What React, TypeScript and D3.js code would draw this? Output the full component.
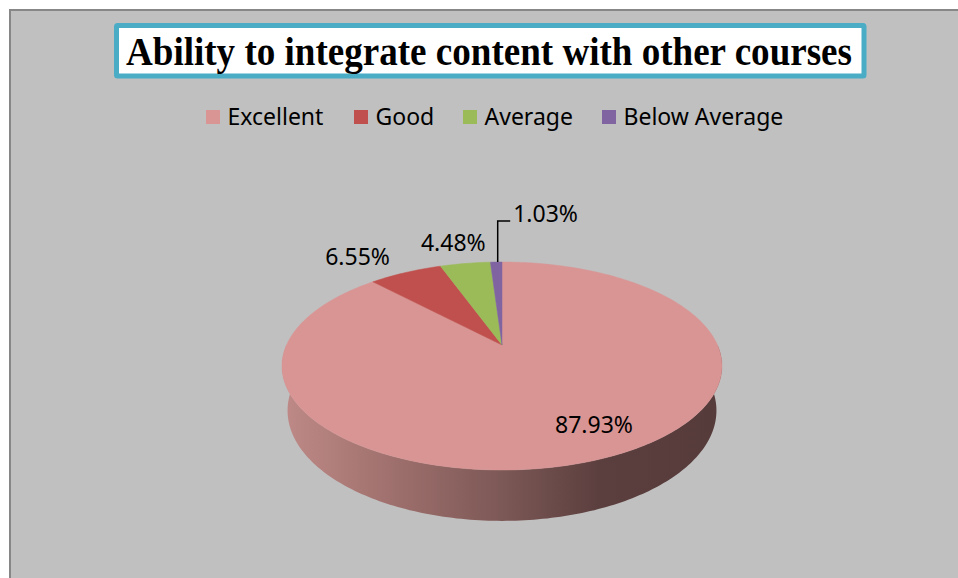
import React from "react";
import * as d3 from "d3";

const categories = ["Excellent", "Good", "Average", "Below Average"];
const values = [87.93, 6.55, 4.48, 1.03];
const labels = ["87.93%", "6.55%", "4.48%", "1.03%"];
const colors = ["#d99594", "#c0504d", "#9bbb59", "#8064a2"];
const title = "Ability to integrate content with other courses";

const W = 958;
const H = 578;

// 3D perspective parameters (units of camera distance L)
const CX = 502;
const CY = 345;
const KL = 945;
const R = 0.228;
const SA = 0.463;
const CA = 0.886;
const DEPTH = 0.0537;

function project(X: number, Yw: number, Z: number): [number, number] {
  const yc = Yw * CA + Z * SA;
  const zc = 1 - Yw * SA + Z * CA;
  return [CX + (KL * X) / zc, CY - (KL * yc) / zc];
}
function rimPoint(theta: number, rad: number, Yw: number): [number, number] {
  return project(rad * Math.sin(theta), Yw, rad * Math.cos(theta));
}

const line = d3.line<[number, number]>();

export default function App() {
  const pie = d3
    .pie<number>()
    .sort(null)
    .startAngle(0)
    .endAngle(2 * Math.PI);
  const arcs = pie(values);

  // side wall (front half)
  const wallTop: [number, number][] = [];
  const wallBot: [number, number][] = [];
  const steps = 180;
  for (let i = 0; i <= steps; i++) {
    const t = Math.PI / 2 + (Math.PI * i) / steps;
    wallTop.push(rimPoint(t, R, 0));
    wallBot.push(rimPoint(t, R, -DEPTH));
  }
  const wallPath = line([...wallTop, ...wallBot.reverse()]) + "Z";

  const slicePaths = arcs.map((a) => {
    const pts: [number, number][] = [project(0, 0, 0)];
    const n = Math.max(4, Math.ceil(((a.endAngle - a.startAngle) / (2 * Math.PI)) * 360));
    for (let i = 0; i <= n; i++) {
      const t = a.startAngle + ((a.endAngle - a.startAngle) * i) / n;
      pts.push(rimPoint(t, R, 0));
    }
    return line(pts) + "Z";
  });

  const mid = (i: number) => (arcs[i].startAngle + arcs[i].endAngle) / 2;

  // label anchors
  const exAnchor = rimPoint(mid(0), R * 0.8, 0);
  const goodAnchor = rimPoint(mid(1), R, 0);
  const avgAnchor = rimPoint(mid(2), R, 0);
  const baAnchor = rimPoint(mid(3), R, 0);

  const labelFont = "'Noto Sans', 'Open Sans', sans-serif";

  const legendX = [206, 354, 463, 602];

  return (
    <svg
      width={W}
      height={H}
      style={{ position: "absolute", left: 0, top: 0 }}
      xmlns="http://www.w3.org/2000/svg"
    >
      <defs>
        <linearGradient id="wallGrad" gradientUnits="userSpaceOnUse" x1={282} y1={0} x2={722} y2={0}>
          <stop offset="0" stopColor="#bf8a87" />
          <stop offset="0.27" stopColor="#9c6e6b" />
          <stop offset="0.5" stopColor="#7c5856" />
          <stop offset="0.72" stopColor="#5b3f3e" />
          <stop offset="1" stopColor="#563b3b" />
        </linearGradient>
      </defs>
      <rect x={0} y={0} width={W} height={H} fill="#ffffff" />
      <rect x={10} y={10} width={W - 10} height={H - 10} fill="#c0c0c0" />
      <line x1={10} y1={9} x2={10} y2={H} stroke="#878787" strokeWidth={2} />
      <line x1={9} y1={10} x2={W} y2={10} stroke="#878787" strokeWidth={2} />

      {/* title */}
      <rect x={116.5} y={25.5} width={747.5} height={50.5} fill="#ffffff" stroke="#4bacc6" strokeWidth={5} rx={1} />
      <text
        x={126}
        y={64.5}
        fontFamily="'Liberation Serif', 'Times New Roman', serif"
        fontWeight="bold"
        fontSize={40}
        textLength={726}
        lengthAdjust="spacingAndGlyphs"
        fill="#000"
      >
        {title}
      </text>

      {/* legend */}
      {categories.map((c, i) => (
        <g key={c}>
          <rect x={legendX[i]} y={110} width={14} height={14} fill={colors[i]} />
          <text x={legendX[i] + 21.5} y={125} fontFamily={labelFont} fontSize={23} fill="#000">
            {c}
          </text>
        </g>
      ))}

      {/* pie */}
      <path d={wallPath} fill="url(#wallGrad)" />
      {slicePaths.map((d, i) => (
        <path key={i} d={d} fill={colors[i]} stroke={colors[i]} strokeWidth={0.5} />
      ))}

      {/* labels */}
      <text x={exAnchor[0] + 17} y={exAnchor[1] + 1} textAnchor="middle" fontFamily={labelFont} fontSize={23} fill="#000">
        {labels[0]}
      </text>
      <text x={goodAnchor[0] - 48} y={goodAnchor[1] - 8} textAnchor="middle" fontFamily={labelFont} fontSize={23} fill="#000">
        {labels[1]}
      </text>
      <text x={avgAnchor[0] - 12} y={avgAnchor[1] - 12} textAnchor="middle" fontFamily={labelFont} fontSize={23} fill="#000">
        {labels[2]}
      </text>
      <path
        d={`M${baAnchor[0] + 1.5},${baAnchor[1]} L${baAnchor[0] + 1.5},${baAnchor[1] - 41} L${baAnchor[0] + 14},${baAnchor[1] - 41}`}
        fill="none"
        stroke="#000"
        strokeWidth={1.5}
      />
      <text x={baAnchor[0] + 17} y={baAnchor[1] - 40} fontFamily={labelFont} fontSize={23} fill="#000">
        {labels[3]}
      </text>
    </svg>
  );
}
